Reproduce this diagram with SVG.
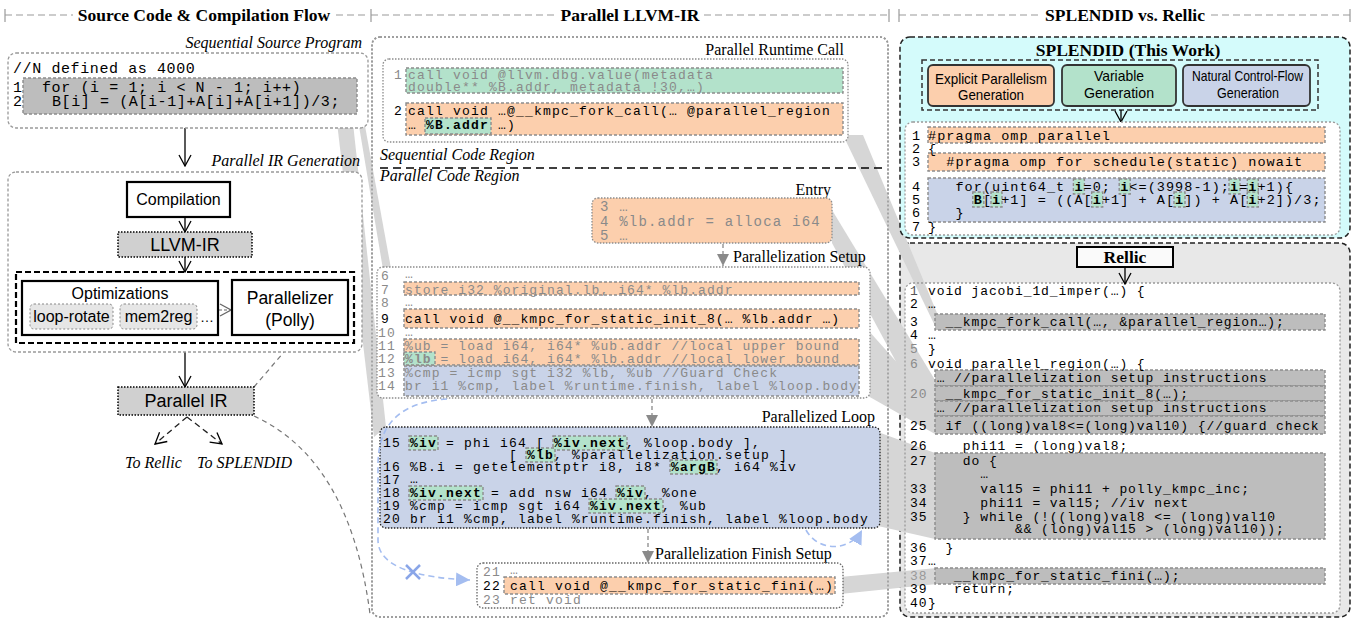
<svg xmlns="http://www.w3.org/2000/svg" width="1357" height="619" viewBox="0 0 1357 619" xml:space="preserve">
<style>
.mono{font-family:"Liberation Mono","DejaVu Sans Mono",monospace;}
.m-src{font-size:15px;letter-spacing:0.6px;}
.m9{font-size:13px;letter-spacing:1.2px;}
.m-entry{font-size:14px;letter-spacing:1.2px;}
.m-setup{font-size:13px;letter-spacing:1.08px;}
.m-spl{font-size:13.5px;letter-spacing:1.05px;}
.m-rel{font-size:13px;letter-spacing:0.9px;}
.sans{font-family:"Liberation Sans",Arial,sans-serif;}
.hdr{font-family:"Liberation Serif","DejaVu Serif",serif;font-weight:bold;font-size:17.5px;}
.lbl{font-family:"Liberation Serif","DejaVu Serif",serif;font-size:16px;}
.it{font-family:"Liberation Serif","DejaVu Serif",serif;font-style:italic;font-size:16px;}
.hl{stroke:#8c8c8c;stroke-width:1.4;stroke-dasharray:3 2;}
.o{fill:#fccfad;}
.gr{fill:#b3e2cb;}
.bl{fill:#c9d3e8;}
.k{fill:#bdbdbd;}
.band{fill:#d6d6d6;}
.g{fill:#8a8a8a;}
.b{font-weight:bold;}
.hline{stroke:#999;stroke-width:1.2;stroke-dasharray:7 4;fill:none;}
.tick{stroke:#999;stroke-width:1.2;}
.dot{fill:#fff;stroke:#8c8c8c;stroke-width:1.3;stroke-dasharray:1.5 1.5;}
.blk{fill:#fff;stroke:#000;stroke-width:2.2;}
.arr{stroke:#000;stroke-width:1.3;fill:none;}
.garr{stroke:#8a8a8a;stroke-width:1.3;stroke-dasharray:4 3;fill:none;}
.blue{stroke:#a4bdf0;stroke-width:1.6;stroke-dasharray:6 4;fill:none;}
</style>
<defs>
<marker id="ov" viewBox="-1 -7 13 14" refX="11" refY="0" markerWidth="13" markerHeight="14" markerUnits="userSpaceOnUse" orient="auto"><path d="M0,-6 L11,0 L0,6" fill="none" stroke="#000" stroke-width="1.3"/></marker>
<marker id="ovg" viewBox="-1 -7 13 14" refX="11" refY="0" markerWidth="13" markerHeight="14" markerUnits="userSpaceOnUse" orient="auto"><path d="M0,-6 L11,0 L0,6" fill="none" stroke="#666" stroke-width="1.2"/></marker>
<marker id="af" viewBox="0 -6 12 12" refX="12" refY="0" markerWidth="12" markerHeight="12" markerUnits="userSpaceOnUse" orient="auto"><path d="M0,-6 L12,0 L0,6 Z" fill="#8a8a8a"/></marker>
<marker id="ab" viewBox="0 -7 14 14" refX="14" refY="0" markerWidth="14" markerHeight="14" markerUnits="userSpaceOnUse" orient="auto"><path d="M0,-7 L14,0 L0,7 Z" fill="#a4bdf0"/></marker>
</defs>
<rect width="1357" height="619" fill="#fff"/>

<g id="headers">
<line class="tick" x1="5" y1="9" x2="5" y2="22"/>
<line class="hline" x1="5" y1="15" x2="73" y2="15"/>
<text class="hdr" x="204" y="21" text-anchor="middle">Source Code &amp; Compilation Flow</text>
<line class="hline" x1="336" y1="15" x2="368" y2="15"/>
<line class="tick" x1="371" y1="9" x2="371" y2="22"/>
<line class="hline" x1="371" y1="15" x2="557" y2="15"/>
<text class="hdr" x="630" y="21" text-anchor="middle">Parallel LLVM-IR</text>
<line class="hline" x1="704" y1="15" x2="888" y2="15"/>
<line class="tick" x1="889" y1="9" x2="889" y2="22"/>
<line class="tick" x1="899" y1="9" x2="899" y2="22"/>
<line class="hline" x1="899" y1="15" x2="1040" y2="15"/>
<text class="hdr" x="1125" y="21" text-anchor="middle">SPLENDID vs. Rellic</text>
<line class="hline" x1="1211" y1="15" x2="1350" y2="15"/>
<line class="tick" x1="1350" y1="9" x2="1350" y2="22"/>
</g>

<g id="middle-panel">
<rect x="372" y="37" width="516" height="580" rx="8" fill="#fff" stroke="#999" stroke-width="1.6" stroke-dasharray="2 2"/>
</g>

<g id="rellic-panel">
<rect x="900" y="243" width="450" height="374" rx="10" fill="#e8e8e8" stroke="#222" stroke-width="1.5" stroke-dasharray="5 3"/>
<rect x="905" y="283" width="435" height="330" rx="8" fill="#fff"/>
</g>

<g id="connectors">
<polygon class="band" points="357,82 357,114 404,395 404,340"/>
<polygon class="band" points="336,114 352,114 386,427 374,437"/>
<polygon class="band" points="843,135 863,135 937,313 937,330"/>
<polygon class="band" points="832,210 832,243 935,434 935,380"/>
<polygon class="band" points="868,330 868,396 935,434 935,405"/>
<polygon class="band" points="878,432 878,526 935,539 935,453"/>
<polygon class="band" points="840,577 840,594 937,584 937,568"/>
<line class="arr" x1="185" y1="128" x2="185" y2="166" marker-end="url(#ov)"/>
<line class="arr" x1="185" y1="352" x2="185" y2="387" marker-end="url(#ov)"/>
<line x1="187" y1="417" x2="155" y2="444" stroke="#222" stroke-width="1.3" stroke-dasharray="6 4" marker-end="url(#ov)"/>
<line x1="187" y1="417" x2="222" y2="444" stroke="#222" stroke-width="1.3" stroke-dasharray="6 4" marker-end="url(#ov)"/>
<line x1="254" y1="387" x2="284" y2="352" stroke="#777" stroke-width="1.2" stroke-dasharray="5 4"/>
<path d="M254,416 Q350,460 370,614" stroke="#777" stroke-width="1.2" stroke-dasharray="5 4" fill="none"/>
<line class="garr" x1="723" y1="244" x2="723" y2="266" marker-end="url(#af)"/>
<line class="garr" x1="652" y1="399" x2="652" y2="427" marker-end="url(#af)"/>
<line class="garr" x1="648" y1="529" x2="648" y2="563" marker-end="url(#af)"/>
</g>

<g id="source-program">
<text class="it" x="362" y="48" text-anchor="end">Sequential Source Program</text>
<rect x="8" y="53" width="360" height="75" rx="8" fill="#fff" stroke="#999" stroke-width="1.3" stroke-dasharray="3 2"/>
<rect class="hl k" x="23" y="78" width="334" height="36"/>
<g class="mono m-src">
<text x="13" y="73">//N defined as 4000</text>
<text x="13" y="92">1</text><text x="42" y="92">for (i = 1; i &lt; N - 1; i++)</text>
<text x="13" y="106">2</text><text x="52" y="106">B[i] = (A[i-1]+A[i]+A[i+1])/3;</text>
</g>
</g>

<g id="parallel-ir-generation">
<text class="it" x="360" y="166" text-anchor="end">Parallel IR Generation</text>
<rect x="8" y="172" width="354" height="180" rx="8" fill="#fff" stroke="#999" stroke-width="1.3" stroke-dasharray="3 2"/>
<line class="arr" x1="185" y1="217" x2="185" y2="232" marker-end="url(#ov)"/>
<line class="arr" x1="185" y1="257" x2="185" y2="272" marker-end="url(#ov)"/>
<line x1="219" y1="310" x2="231" y2="310" stroke="#666" stroke-width="1.2" stroke-dasharray="3 2" marker-end="url(#ovg)"/>
</g>
<g id="compilation">
<rect class="blk" x="127" y="182" width="103" height="35"/>
<text class="sans" font-size="16" x="178.5" y="205" text-anchor="middle">Compilation</text>
</g>
<g id="llvm-ir">
<rect x="118" y="232" width="134" height="25" fill="#d0d0d0" stroke="#000" stroke-width="1.5" stroke-dasharray="1.5 1.5"/>
<text class="sans" font-size="18" x="185" y="251" text-anchor="middle">LLVM-IR</text>
</g>
<g id="pass-pipeline">
<rect x="16" y="272" width="338" height="71" fill="none" stroke="#000" stroke-width="2.2" stroke-dasharray="6 3"/>
</g>
<g id="optimizations">
<rect class="blk" x="22" y="281" width="196" height="54"/>
<text class="sans" font-size="16" x="120" y="299" text-anchor="middle">Optimizations</text>
<rect x="30" y="304" width="83" height="25" rx="4" fill="#e6e6e6" stroke="#888" stroke-width="1" stroke-dasharray="2 2"/>
<text class="sans" font-size="16" x="71.5" y="322" text-anchor="middle">loop-rotate</text>
<rect x="120" y="304" width="77" height="25" rx="4" fill="#e6e6e6" stroke="#888" stroke-width="1" stroke-dasharray="2 2"/>
<text class="sans" font-size="16" x="158.5" y="322" text-anchor="middle">mem2reg</text>
<text class="sans" font-size="14" x="200" y="322">…</text>
</g>
<g id="parallelizer">
<rect class="blk" x="232" y="280" width="116" height="55"/>
<text class="sans" font-size="17.5" x="290" y="304" text-anchor="middle">Parallelizer</text>
<text class="sans" font-size="17.5" x="290" y="326" text-anchor="middle">(Polly)</text>
</g>
<g id="parallel-ir">
<rect x="118" y="387" width="136" height="28" fill="#d0d0d0" stroke="#000" stroke-width="1.5" stroke-dasharray="1.5 1.5"/>
<text class="sans" font-size="18" x="186" y="407" text-anchor="middle">Parallel IR</text>
<text class="it" x="125" y="468">To Rellic</text>
<text class="it" x="197" y="468">To SPLENDID</text>
</g>

<g id="runtime-call">
<text class="lbl" x="844" y="55" text-anchor="end">Parallel Runtime Call</text>
<rect class="dot" x="383" y="59" width="465" height="83" rx="6"/>
<rect class="hl gr" x="406" y="68" width="437" height="25"/>
<rect class="hl o" x="406" y="103" width="437" height="32"/>
<rect class="hl gr" x="425" y="118" width="66" height="16"/>
<g class="mono m9">
<text class="g" x="394" y="79">1</text>
<text class="g" x="408" y="79">call void @llvm.dbg.value(metadata</text>
<text class="g" x="408" y="91">double** %B.addr, metadata !30,…)</text>
<text x="394" y="115">2</text>
<text x="408" y="115">call void …@__kmpc_fork_call(… @parallel_region</text>
<text x="408" y="129">… <tspan class="b">%B.addr</tspan> …)</text>
</g>
<text class="it" x="380" y="160">Sequential Code Region</text>
<line x1="380" y1="168" x2="884" y2="168" stroke="#000" stroke-width="1.3" stroke-dasharray="8 5"/>
<text class="it" x="380" y="181">Parallel Code Region</text>
</g>

<g id="entry">
<text class="lbl" x="831" y="195" text-anchor="end">Entry</text>
<rect x="592" y="198" width="240" height="45" rx="6" fill="#fccfad" stroke="#8c8c8c" stroke-width="1.3" stroke-dasharray="1.5 1.5"/>
<g class="mono m-entry g">
<text x="600" y="211">3 …</text>
<text x="600" y="226">4 %lb.addr = alloca i64</text>
<text x="600" y="240">5 …</text>
</g>
</g>

<g id="parallelization-setup">
<text class="lbl" x="733" y="262" font-size="15.5">Parallelization Setup</text>
<rect class="dot" x="377" y="267" width="493" height="131" rx="6"/>
<rect class="hl o" x="404" y="282" width="455" height="13"/>
<rect class="hl o" x="404" y="309" width="455" height="19"/>
<rect class="hl o" x="404" y="339" width="455" height="26"/>
<rect class="hl bl" x="404" y="366" width="455" height="30"/>
<rect class="hl gr" x="404" y="352" width="31" height="13"/>
<g class="mono m-setup">
<text class="g" x="381" y="280">6</text><text class="g" x="405" y="278">…</text>
<text class="g" x="381" y="294">7</text><text class="g" x="405" y="294">store i32 %original.lb, i64* %lb.addr</text>
<text class="g" x="381" y="307">8</text><text class="g" x="405" y="306">…</text>
<text x="381" y="323">9</text><text x="405" y="323">call void @__kmpc_for_static_init_8(… %lb.addr …)</text>
<text class="g" x="378" y="337">10</text><text class="g" x="405" y="336">…</text>
<text class="g" x="378" y="350">11</text><text class="g" x="405" y="350">%ub = load i64, i64* %ub.addr //local upper bound</text>
<text class="g" x="378" y="363">12</text><text class="g" x="405" y="363"><tspan class="b">%lb</tspan> = load i64, i64* %lb.addr //local lower bound</text>
<text class="g" x="378" y="377">13</text><text class="g" x="405" y="377">%cmp = icmp sgt i32 %lb, %ub //Guard Check</text>
<text class="g" x="378" y="390">14</text><text class="g" x="405" y="390">br i1 %cmp, label %runtime.finish, label %loop.body</text>
</g>
</g>

<g id="parallelized-loop">
<text class="lbl" x="875" y="422" text-anchor="end">Parallelized Loop</text>
<rect x="380" y="427" width="500" height="101" rx="6" fill="#c9d3e8" stroke="#222" stroke-width="1.3" stroke-dasharray="1.5 1.5"/>
<rect class="hl gr" x="409" y="436" width="29" height="14"/>
<rect class="hl gr" x="553" y="436" width="74" height="14"/>
<rect class="hl gr" x="526" y="448" width="29" height="14"/>
<rect class="hl gr" x="670" y="460" width="47" height="14"/>
<rect class="hl gr" x="409" y="486" width="74" height="14"/>
<rect class="hl gr" x="616" y="486" width="29" height="14"/>
<rect class="hl gr" x="589" y="499" width="74" height="14"/>
<g class="mono m9">
<text x="383" y="447">15</text><text x="410" y="447"><tspan class="b">%iv</tspan> = phi i64 [ <tspan class="b">%iv.next</tspan>, %loop.body ],</text>
<text x="509" y="459">[ <tspan class="b">%lb</tspan>, %parallelization.setup ]</text>
<text x="383" y="471">16</text><text x="410" y="471">%B.i = getelementptr i8, i8* <tspan class="b">%argB</tspan>, i64 %iv</text>
<text x="383" y="484">17</text><text x="410" y="483">…</text>
<text x="383" y="497">18</text><text x="410" y="497"><tspan class="b">%iv.next</tspan> = add nsw i64 <tspan class="b">%iv</tspan>, %one</text>
<text x="383" y="510">19</text><text x="410" y="510">%cmp = icmp sgt i64 <tspan class="b">%iv.next</tspan>, %ub</text>
<text x="383" y="523">20</text><text x="410" y="523">br i1 %cmp, label %runtime.finish, label %loop.body</text>
</g>
</g>

<g id="loop-edges">
<path class="blue" d="M447,399 C405,402 378,420 378,465 L378,540 C378,568 420,578 470,580" marker-end="url(#ab)"/>
<line x1="406" y1="565" x2="420" y2="579" stroke="#8aa6e8" stroke-width="2.5"/>
<line x1="406" y1="579" x2="420" y2="565" stroke="#8aa6e8" stroke-width="2.5"/>
<path class="blue" d="M806,530 C818,552 850,552 862,530" marker-end="url(#ab)"/>
</g>

<g id="finish-setup">
<text class="lbl" x="655" y="559">Parallelization Finish Setup</text>
<rect x="477" y="563" width="366" height="45" rx="6" fill="#fff" stroke="#666" stroke-width="1.3" stroke-dasharray="1.5 1.5"/>
<rect class="hl o" x="504" y="577" width="331" height="17"/>
<g class="mono m9">
<text class="g" x="483" y="576">21</text><text class="g" x="510" y="574">…</text>
<text x="483" y="590">22</text><text x="510" y="590">call void @__kmpc_for_static_fini(…)</text>
<text class="g" x="483" y="604">23</text><text class="g" x="510" y="604">ret void</text>
</g>
</g>

<g id="middle-panel-border">
<rect x="372" y="37" width="516" height="580" rx="8" fill="none" stroke="#999" stroke-width="1.6" stroke-dasharray="2 2"/>
</g>

<g id="splendid">
<rect x="900" y="37" width="450" height="201" rx="10" fill="#d4fbfb" stroke="#222" stroke-width="1.5" stroke-dasharray="5 3"/>
<text class="hdr" font-size="16" x="1128" y="56" text-anchor="middle">SPLENDID (This Work)</text>
<rect x="922" y="60" width="396" height="50" fill="none" stroke="#333" stroke-width="1.5" stroke-dasharray="5 3"/>
<line class="arr" x1="1121" y1="110" x2="1121" y2="122" marker-end="url(#ov)"/>
<g id="explicit-parallelism">
<rect x="928" y="65" width="126" height="41" rx="5" fill="#fccfad" stroke="#333" stroke-width="1.8"/>
<text class="sans" font-size="15" x="935" y="84" textLength="112" lengthAdjust="spacingAndGlyphs">Explicit Parallelism</text>
<text class="sans" font-size="15" x="958" y="100" textLength="66" lengthAdjust="spacingAndGlyphs">Generation</text>
</g>
<g id="variable-generation">
<rect x="1062" y="65" width="114" height="41" rx="5" fill="#b3e2cb" stroke="#333" stroke-width="1.8"/>
<text class="sans" font-size="15" x="1094" y="81" textLength="50" lengthAdjust="spacingAndGlyphs">Variable</text>
<text class="sans" font-size="15" x="1084" y="98" textLength="70" lengthAdjust="spacingAndGlyphs">Generation</text>
</g>
<g id="control-flow-generation">
<rect x="1183" y="65" width="127" height="41" rx="5" fill="#c9d3e8" stroke="#333" stroke-width="1.8"/>
<text class="sans" font-size="15" x="1192" y="81" textLength="111" lengthAdjust="spacingAndGlyphs">Natural Control-Flow</text>
<text class="sans" font-size="15" x="1217" y="98" textLength="62" lengthAdjust="spacingAndGlyphs">Generation</text>
</g>
<g id="splendid-code">
<rect x="905" y="122" width="435" height="113" rx="8" fill="#fff" stroke="#999" stroke-width="1.3" stroke-dasharray="2 2"/>
<rect class="hl o" x="928" y="127" width="397" height="16"/>
<rect class="hl o" x="928" y="153" width="397" height="18"/>
<rect class="hl bl" x="928" y="178" width="397" height="44"/>
<rect class="hl gr" x="1073.4" y="179" width="11" height="15"/>
<rect class="hl gr" x="1119.2" y="179" width="11" height="15"/>
<rect class="hl gr" x="1229" y="179" width="11" height="15"/>
<rect class="hl gr" x="1247.3" y="179" width="11" height="15"/>
<rect class="hl gr" x="972.8" y="192" width="11" height="15"/>
<rect class="hl gr" x="991" y="192" width="11" height="15"/>
<rect class="hl gr" x="1091.7" y="192" width="11" height="15"/>
<rect class="hl gr" x="1174" y="192" width="11" height="15"/>
<rect class="hl gr" x="1247.3" y="192" width="11" height="15"/>
<g class="mono m-spl">
<text x="912" y="140">1</text><text x="928" y="140">#pragma omp parallel</text>
<text x="912" y="153">2</text><text x="928" y="153">{</text>
<text x="912" y="166">3</text><text x="946.3" y="166">#pragma omp for schedule(static) nowait</text>
<text x="912" y="191">4</text><text x="955.45" y="191">for(uint64_t <tspan class="b">i</tspan>=0; <tspan class="b">i</tspan>&lt;=(3998-1);<tspan class="b">i</tspan>=<tspan class="b">i</tspan>+1){</text>
<text x="912" y="204">5</text><text x="973.75" y="204"><tspan class="b">B</tspan>[<tspan class="b">i</tspan>+1] = ((A[<tspan class="b">i</tspan>+1] + A[<tspan class="b">i</tspan>]) + A[<tspan class="b">i</tspan>+2])/3;</text>
<text x="912" y="217">6</text><text x="955.45" y="217">}</text>
<text x="912" y="231">7</text><text x="928" y="231">}</text>
</g>
</g>
</g>

<g id="rellic">
<rect x="905" y="283" width="435" height="330" rx="8" fill="none" stroke="#999" stroke-width="1.3" stroke-dasharray="2 2"/>
<rect x="1077" y="247" width="96" height="20" fill="#fafafa" stroke="#000" stroke-width="2"/>
<text class="hdr" font-size="17" x="1125" y="263" text-anchor="middle">Rellic</text>
<line class="arr" x1="1125" y1="267" x2="1125" y2="284" marker-end="url(#ov)"/>
<rect class="hl k" x="935" y="314" width="390" height="16"/>
<rect class="hl k" x="935" y="370" width="390" height="16"/>
<rect class="hl k" x="935" y="386" width="390" height="15"/>
<rect class="hl k" x="935" y="401" width="390" height="15"/>
<rect class="hl k" x="935" y="416" width="390" height="18"/>
<rect class="hl k" x="935" y="453" width="390" height="86"/>
<rect class="hl k" x="935" y="568" width="390" height="16"/>
<g class="mono m-rel">
<text x="910" y="295" fill="#555">1</text><text x="928" y="295">void jacobi_1d_imper(…) {</text>
<text x="910" y="308">2</text><text x="928" y="308">…</text>
<text x="910" y="326">3</text><text x="945.4" y="326">__kmpc_fork_call(…, &amp;parallel_region…);</text>
<text x="910" y="339">4</text><text x="928" y="339">…</text>
<text class="g" x="910" y="353">5</text><text x="928" y="353">}</text>
<text class="g" x="910" y="368">6</text><text x="928" y="368">void parallel_region(…) {</text>
<text x="936.7" y="382">… //parallelization setup instructions</text>
<text class="g" x="910" y="398">20</text><text x="945.4" y="398">__kmpc_for_static_init_8(…);</text>
<text x="936.7" y="412">… //parallelization setup instructions</text>
<text x="910" y="430">25</text><text x="945.4" y="430">if ((long)val8&lt;=(long)val10) {//guard check</text>
<text x="910" y="450">26</text><text x="962.8" y="450">phi11 = (long)val8;</text>
<text x="910" y="465">27</text><text x="962.8" y="465">do {</text>
<text x="980.2" y="478">…</text>
<text x="910" y="493">33</text><text x="980.2" y="493">val15 = phi11 + polly_kmpc_inc;</text>
<text x="910" y="507">34</text><text x="980.2" y="507">phi11 = val15; //iv next</text>
<text x="910" y="521">35</text><text x="962.8" y="521">} while (!((long)val8 &lt;= (long)val10</text>
<text x="1015" y="533">&amp;&amp; (long)val15 &gt; (long)val10));</text>
<text x="910" y="552">36</text><text x="945.4" y="552">}</text>
<text x="910" y="565">37</text><text x="928" y="565">…</text>
<text x="910" y="580" fill="#999">38</text><text x="954.1" y="580">__kmpc_for_static_fini(…);</text>
<text x="910" y="593">39</text><text x="954.1" y="593">return;</text>
<text x="910" y="607">40</text><text x="928" y="607">}</text>
</g>
</g>
</svg>
